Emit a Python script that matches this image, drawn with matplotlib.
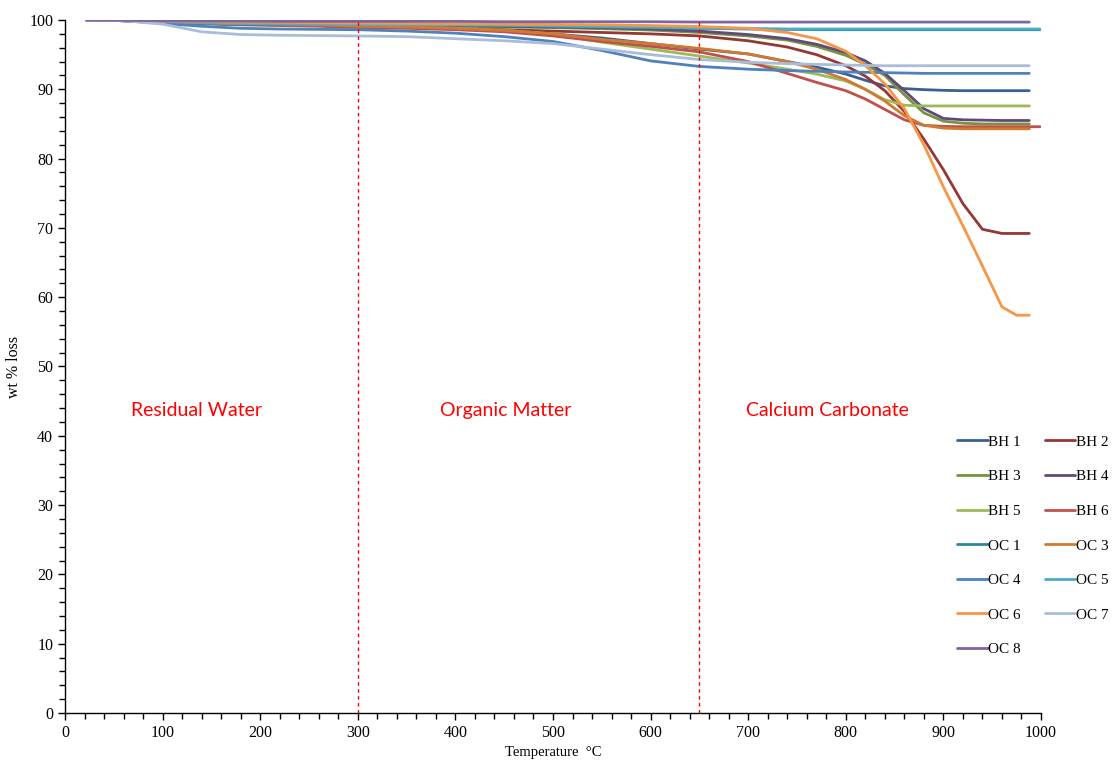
import matplotlib
matplotlib.use("Agg")
import matplotlib.pyplot as plt
from matplotlib.ticker import MultipleLocator

# temperature grid (deg C) shared by all runs
temp = [22, 60, 100, 140, 180, 220, 260, 300, 350, 400, 450, 500, 550, 600, 650,
        700, 740, 770, 800, 820, 840, 860, 880, 900, 920, 940, 960, 975, 988]

bh1 = [100, 99.9, 99.7, 99.5, 99.4, 99.3, 99.2, 99.1, 99.0, 98.8, 98.5, 98.0, 97.4, 96.6, 95.8,
       95.1, 94.0, 93.2, 92.2, 91.3, 90.5, 90.1, 89.95, 89.85, 89.8, 89.8, 89.8, 89.8, 89.8]
bh2 = [100, 99.9, 99.7, 99.5, 99.4, 99.3, 99.2, 99.1, 99.0, 98.8, 98.6, 98.4, 98.2, 98.0, 97.7,
       97.0, 96.1, 95.0, 93.4, 91.9, 89.8, 86.8, 82.8, 78.4, 73.5, 69.8, 69.2, 69.2, 69.2]
bh3 = [100, 99.9, 99.7, 99.5, 99.4, 99.35, 99.3, 99.25, 99.2, 99.1, 99.0, 98.9, 98.75, 98.55, 98.2,
       97.7, 97.1, 96.2, 94.9, 93.6, 92.0, 89.2, 86.6, 85.4, 85.1, 85.0, 85.0, 85.0, 85.0]
bh4 = [100, 99.95, 99.8, 99.6, 99.5, 99.4, 99.35, 99.3, 99.25, 99.2, 99.1, 99.0, 98.9, 98.7, 98.4,
       97.9, 97.3, 96.5, 95.3, 94.1, 92.3, 89.8, 87.2, 85.8, 85.6, 85.55, 85.5, 85.5, 85.5]
bh5 = [100, 99.9, 99.7, 99.5, 99.4, 99.3, 99.2, 99.1, 99.0, 98.8, 98.5, 98.0, 96.8, 95.8, 94.8,
       93.8, 92.9, 92.2, 91.2, 90.0, 88.5, 87.7, 87.6, 87.6, 87.6, 87.6, 87.6, 87.6, 87.6]
bh6 = [100, 99.9, 99.7, 99.5, 99.3, 99.2, 99.1, 98.9, 98.8, 98.6, 98.3, 97.7, 96.9, 96.2, 95.4,
       94.0, 92.3, 91.0, 89.8, 88.6, 87.1, 85.6, 84.8, 84.65, 84.6, 84.6, 84.6, 84.6, 84.6]
oc1 = [100, 99.9, 99.7, 99.5, 99.4, 99.35, 99.3, 99.3, 99.3, 99.25, 99.2, 99.1, 99.0, 98.9, 98.8,
       98.7, 98.65, 98.6, 98.6, 98.6, 98.6, 98.6, 98.6, 98.6, 98.6, 98.6, 98.6, 98.6, 98.6]
oc3 = [100, 99.9, 99.75, 99.6, 99.5, 99.4, 99.3, 99.1, 99.0, 98.8, 98.5, 98.0, 97.2, 96.6, 95.9,
       95.1, 94.0, 92.9, 91.4, 90.0, 88.3, 86.2, 84.8, 84.4, 84.3, 84.3, 84.3, 84.3, 84.3]
oc4 = [100, 99.9, 99.5, 99.1, 98.8, 98.7, 98.65, 98.6, 98.4, 98.1, 97.6, 96.9, 95.6, 94.1, 93.3,
       92.9, 92.7, 92.6, 92.5, 92.45, 92.4, 92.35, 92.3, 92.3, 92.3, 92.3, 92.3, 92.3, 92.3]
oc5 = [100, 99.95, 99.8, 99.6, 99.5, 99.45, 99.4, 99.35, 99.3, 99.3, 99.25, 99.15, 99.05, 98.95, 98.85,
       98.75, 98.7, 98.7, 98.7, 98.7, 98.7, 98.7, 98.7, 98.7, 98.7, 98.7, 98.7, 98.7, 98.7]
oc6 = [100, 99.95, 99.85, 99.75, 99.7, 99.65, 99.6, 99.55, 99.5, 99.45, 99.4, 99.35, 99.3, 99.2, 99.05,
       98.8, 98.2, 97.3, 95.5, 93.4, 90.8, 87.2, 82.0, 75.9, 70.3, 64.5, 58.6, 57.4, 57.4]
oc7 = [100, 99.9, 99.4, 98.3, 97.9, 97.8, 97.75, 97.7, 97.6, 97.3, 97.0, 96.6, 95.8, 95.0, 94.3,
       93.9, 93.7, 93.6, 93.5, 93.45, 93.4, 93.4, 93.4, 93.4, 93.4, 93.4, 93.4, 93.4, 93.4]
oc8 = [100, 99.95, 99.9, 99.85, 99.85, 99.8, 99.8, 99.8, 99.8, 99.8, 99.75, 99.75, 99.75, 99.75, 99.7,
       99.7, 99.7, 99.7, 99.7, 99.7, 99.7, 99.7, 99.7, 99.7, 99.7, 99.7, 99.7, 99.7, 99.7]

names = ['BH 1', 'BH 2', 'BH 3', 'BH 4', 'BH 5', 'BH 6',
         'OC 1', 'OC 3', 'OC 4', 'OC 5', 'OC 6', 'OC 7', 'OC 8']
series = [bh1, bh2, bh3, bh4, bh5, bh6, oc1, oc3, oc4, oc5, oc6, oc7, oc8]
# last logged temperature of each run
end_temp = [988, 988, 988, 988, 988, 999, 999, 988, 988, 999, 988, 988, 988]
colors = ['#386192', '#953735', '#77933C', '#604A7B', '#9BBB59', '#C0504D',
          '#31859C', '#D07A30', '#4F81BD', '#4BACC6', '#F79646', '#A9BDDB', '#8064A2']

boundaries = [300, 650]
regions = ['Residual Water', 'Organic Matter', 'Calcium Carbonate']
region_x = [135, 452, 781]

serif = 'Liberation Serif'
fig = plt.figure(figsize=(11.12, 7.62), dpi=100)
ax = fig.add_axes([65 / 1112, 49 / 762, 976 / 1112, 693 / 762])

handles = []
for name, vals, t_end, c in zip(names, series, end_temp, colors):
    xs = list(temp)
    ys = list(vals)
    if t_end > xs[-1]:
        xs.append(t_end)
        ys.append(vals[-1])
    h, = ax.plot(xs, ys, color=c, lw=2.0, solid_capstyle='round',
                 solid_joinstyle='round', label=name)
    handles.append(h)

for b in boundaries:
    ax.axvline(b, color='#FF0000', lw=1.0, dashes=(2.5, 2.5))

for label, x in zip(regions, region_x):
    ax.text(x, 43.6, label, color='#FF0000', fontsize=14, family='Lato',
            ha='center', va='center')

ax.set_xlim(0, 1000)
ax.set_ylim(0, 100)
ax.xaxis.set_major_locator(MultipleLocator(100))
ax.xaxis.set_minor_locator(MultipleLocator(20))
ax.yaxis.set_major_locator(MultipleLocator(10))
ax.yaxis.set_minor_locator(MultipleLocator(2))
ax.tick_params(which='major', direction='out', length=5, width=1, labelsize=11.5)
ax.tick_params(which='minor', direction='out', length=4, width=1)
for lab in ax.get_xticklabels() + ax.get_yticklabels():
    lab.set_family(serif)
for s in ['top', 'right']:
    ax.spines[s].set_visible(False)
for s in ['left', 'bottom']:
    ax.spines[s].set_linewidth(1.0)

ax.set_xlabel('Temperature  °C', family=serif, fontsize=10.5, labelpad=4)
ax.set_ylabel('wt % loss', family=serif, fontsize=11.5, labelpad=5)

# legend laid out row by row: odd entries left column, even entries right
order = list(range(0, 13, 2)) + list(range(1, 13, 2))
fig.legend([handles[i] for i in order], [names[i] for i in order],
           loc='upper left', bbox_to_anchor=(957 / 1112, 1 - 435 / 762),
           ncol=2, frameon=False, prop={'family': serif, 'size': 11},
           handlelength=2.0, handletextpad=0.05, columnspacing=1.55,
           labelspacing=1.37, borderaxespad=0, borderpad=0)

fig.savefig('out.png', dpi=100)
